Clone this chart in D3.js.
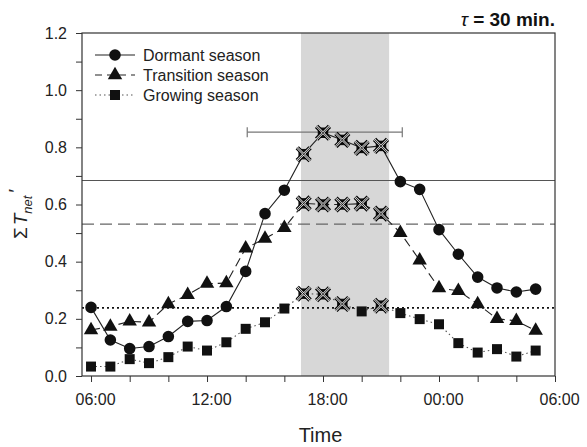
<!DOCTYPE html>
<html>
<head>
<meta charset="utf-8">
<script src="https://cdn.jsdelivr.net/npm/d3@7"></script>
<style>
  body { margin: 0; background: #fff; }
  svg { font-family: "Liberation Sans", Arial, sans-serif; }
</style>
</head>
<body>
<div id="chart"></div>
<script>
// hours since midnight of day 1 (24+ = next day)
const hours = d3.range(6, 30);
const dormant = [0.24, 0.126, 0.096, 0.103, 0.138, 0.191, 0.194, 0.243, 0.366, 0.568, 0.65, 0.776,
                 0.851, 0.826, 0.798, 0.805, 0.68, 0.653, 0.512, 0.426, 0.346, 0.308, 0.294, 0.304];
const transition = [0.161, 0.173, 0.191, 0.188, 0.252, 0.284, 0.323, 0.325, 0.447, 0.481, 0.518, 0.604,
                    0.6, 0.6, 0.603, 0.568, 0.501, 0.405, 0.308, 0.298, 0.252, 0.2, 0.193, 0.159];
const growing = [0.033, 0.033, 0.059, 0.045, 0.066, 0.103, 0.089, 0.118, 0.165, 0.188, 0.236, 0.288,
                 0.286, 0.252, 0.226, 0.246, 0.22, 0.199, 0.181, 0.115, 0.082, 0.094, 0.068, 0.089];
// which points are flagged with a cross
const dormantFlag = [17, 18, 19, 20, 21];
const transitionFlag = [17, 18, 19, 20, 21];
const growingFlag = [17, 18, 19, 21];
// reference levels (horizontal lines)
const dormantRef = 0.684, transitionRef = 0.531, growingRef = 0.238;
// shaded band and horizontal error bar (hours)
const band = [16.86, 21.42];
const errBar = { y: 0.853, x0: 14.08, x1: 22.1 };
const xTicks = [6, 12, 18, 24, 30];
const yTicks = [0, 0.2, 0.4, 0.6, 0.8, 1.0, 1.2];

const width = 587, height = 447;
const m = { left: 82, right: 555, top: 33, bottom: 376 };

const svg = d3.select("#chart").append("svg")
    .attr("width", width)
    .attr("height", height);

const x = d3.scaleLinear().domain([5.533, 30]).range([m.left, m.right]);
const y = d3.scaleLinear().domain([0, 1.2]).range([m.bottom, m.top]);

// shaded band
svg.append("rect")
    .attr("x", x(band[0]))
    .attr("y", m.top)
    .attr("width", x(band[1]) - x(band[0]))
    .attr("height", m.bottom - m.top)
    .attr("fill", "#d7d7d7");

// reference lines
const refs = [
    { v: dormantRef, dash: null, color: "#555", w: 1.2 },
    { v: transitionRef, dash: "12,6", color: "#666", w: 1.2 },
    { v: growingRef, dash: "2,3", color: "#111", w: 1.8 }
];
svg.selectAll(".ref").data(refs).join("line")
    .attr("x1", m.left).attr("x2", m.right)
    .attr("y1", d => y(d.v)).attr("y2", d => y(d.v))
    .attr("stroke", d => d.color)
    .attr("stroke-width", d => d.w)
    .attr("stroke-dasharray", d => d.dash);

// error bar
const eb = svg.append("g").attr("stroke", "#777").attr("stroke-width", 1.2);
eb.append("line").attr("x1", x(errBar.x0)).attr("x2", x(errBar.x1))
    .attr("y1", y(errBar.y)).attr("y2", y(errBar.y));
[errBar.x0, errBar.x1].forEach(v => {
    eb.append("line").attr("x1", x(v)).attr("x2", x(v))
        .attr("y1", y(errBar.y) - 5).attr("y2", y(errBar.y) + 5);
});

// axes
const xAxis = d3.axisBottom(x).tickValues(d3.range(6, 31, 2)).tickSize(6).tickPadding(8)
    .tickFormat(d => xTicks.includes(d) ? String(d % 24).padStart(2, "0") + ":00" : "");
const gx = svg.append("g").attr("transform", `translate(0,${m.bottom})`).call(xAxis);
gx.select(".domain").remove();
gx.selectAll("text").attr("font-size", 16).attr("fill", "#222").attr("dx", 4).attr("dy", "0.95em");
gx.selectAll("line").attr("stroke", "#333");

const yAxis = d3.axisLeft(y).tickValues(d3.range(0, 1.21, 0.1)).tickSize(6).tickPadding(9)
    .tickFormat(d => yTicks.some(t => Math.abs(t - d) < 1e-6) ? d3.format(".1f")(d) : "");
const gy = svg.append("g").attr("transform", `translate(${m.left},0)`).call(yAxis);
gy.select(".domain").remove();
gy.selectAll("text").attr("font-size", 16).attr("fill", "#222");
gy.selectAll("line").attr("stroke", "#333");

// frame
svg.append("rect")
    .attr("x", m.left).attr("y", m.top)
    .attr("width", m.right - m.left).attr("height", m.bottom - m.top)
    .attr("fill", "none").attr("stroke", "#333").attr("stroke-width", 1.2);

// series
const series = [
    { name: "Dormant season", values: dormant, flag: dormantFlag, dash: null, sym: d3.symbolCircle, size: 105 },
    { name: "Transition season", values: transition, flag: transitionFlag, dash: "9,5", sym: d3.symbolTriangle, size: 90 },
    { name: "Growing season", values: growing, flag: growingFlag, dash: "1.5,3", sym: d3.symbolSquare, size: 100 }
];

const line = d3.line().x(d => x(d[0])).y(d => y(d[1]));

series.forEach(s => {
    const pts = hours.map((h, i) => [h, s.values[i]]);
    svg.append("path")
        .attr("d", line(pts))
        .attr("fill", "none")
        .attr("stroke", s.dash === "1.5,3" ? "#555" : "#222")
        .attr("stroke-width", 1.1)
        .attr("stroke-dasharray", s.dash);

    const g = svg.append("g");
    pts.forEach(p => {
        const flagged = s.flag.includes(p[0]);
        const tr = `translate(${x(p[0])},${y(p[1])})`;
        g.append("path")
            .attr("d", d3.symbol(flagged ? d3.symbolSquare : s.sym, flagged ? 110 : s.size)())
            .attr("transform", tr)
            .attr("fill", "#111");
        if (flagged) {
            const xs = d3.symbol(d3.symbolX, 110)();
            g.append("path").attr("d", xs).attr("transform", tr)
                .attr("fill", "none").attr("stroke", "#000").attr("stroke-width", 4.5);
            g.append("path").attr("d", xs).attr("transform", tr)
                .attr("fill", "none").attr("stroke", "#ddd").attr("stroke-width", 2.2);
            g.append("path").attr("d", xs).attr("transform", tr)
                .attr("fill", "none").attr("stroke", "#000").attr("stroke-width", 0.8);
        }
    });
});

// legend
const leg = svg.append("g").attr("transform", "translate(95,55)");
series.forEach((s, i) => {
    const row = leg.append("g").attr("transform", `translate(0,${i * 20})`);
    row.append("line").attr("x1", 0).attr("x2", 40).attr("y1", 0).attr("y2", 0)
        .attr("stroke", s.dash === "1.5,3" ? "#555" : "#222").attr("stroke-width", 1.1)
        .attr("stroke-dasharray", s.dash === "9,5" ? "7,5" : s.dash);
    row.append("path").attr("d", d3.symbol(s.sym, s.size)())
        .attr("transform", "translate(20,0)").attr("fill", "#111");
    row.append("text").attr("x", 48).attr("y", 6)
        .attr("font-size", 16).attr("fill", "#222").text(s.name);
});

// axis titles
svg.append("text")
    .attr("x", (m.left + m.right) / 2 + 2).attr("y", 442)
    .attr("text-anchor", "middle").attr("font-size", 20).attr("fill", "#222")
    .text("Time");

const yl = svg.append("text")
    .attr("transform", "translate(27,214) rotate(-90)")
    .attr("text-anchor", "middle").attr("font-size", 19).attr("fill", "#222");
yl.append("tspan").text("\u03A3");
yl.append("tspan").attr("font-style", "italic").attr("dx", 2).text("T");
yl.append("tspan").attr("font-style", "italic").attr("font-size", 13).attr("dy", 5).text("net");
yl.append("tspan").attr("dy", -10).attr("dx", 3).text("\u2032");

// tau label
const tl = svg.append("text")
    .attr("x", 555).attr("y", 26)
    .attr("text-anchor", "end").attr("font-size", 19).attr("font-weight", "bold").attr("fill", "#111");
tl.append("tspan").attr("font-style", "italic").attr("font-weight", "normal").text("\u03C4");
tl.append("tspan").text(" = 30 min.");
</script>
</body>
</html>
